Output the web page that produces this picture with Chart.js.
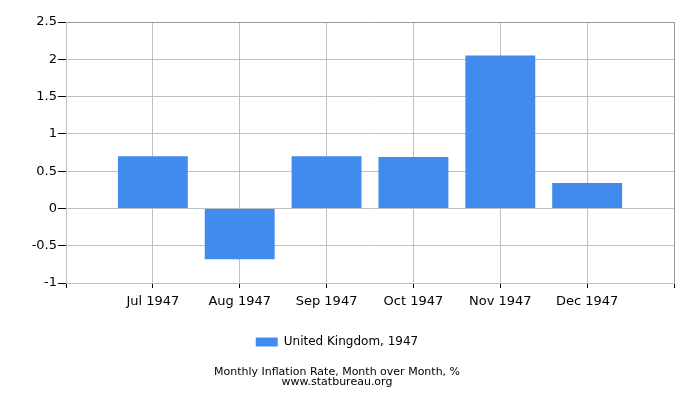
<!DOCTYPE html>
<html>
<head>
<meta charset="utf-8">
<script src="https://cdn.jsdelivr.net/npm/chart.js"></script>
<style>
  html, body { margin: 0; padding: 0; background: #fff; }
</style>
</head>
<body>
<canvas id="chart" width="700" height="400"></canvas>
<script>
// empty slots at both ends so the bars sit on the gridlines, like the original
const months = ['', 'Jul 1947', 'Aug 1947', 'Sep 1947', 'Oct 1947', 'Nov 1947', 'Dec 1947', ''];
const inflation = [null, 0.70, -0.68, 0.70, 0.69, 2.05, 0.34, null];
const seriesLabel = 'United Kingdom, 1947';
const titleLines = ['Monthly Inflation Rate, Month over Month, %', 'www.statbureau.org'];

const FONT = 'DejaVu Sans';
const BAR_COLOR = '#428bee';

new Chart(document.getElementById('chart').getContext('2d'), {
    type: 'bar',
    data: {
        labels: months,
        datasets: [{
            label: seriesLabel,
            data: inflation,
            backgroundColor: BAR_COLOR,
            borderWidth: 0,
            barPercentage: 0.805,
            categoryPercentage: 1
        }]
    },
    options: {
        responsive: false,
        animation: false,
        layout: { padding: { top: 22, right: 26, left: 0, bottom: 0 } },
        scales: {
            x: {
                offset: false,
                grid: {
                    offset: false,
                    color: ctx => ctx.index === months.length - 1 ? '#999' : '#c0c0c0',
                    tickColor: '#000',
                    tickLength: 5
                },
                border: { color: '#c0c0c0' },
                ticks: {
                    color: '#000',
                    font: { family: FONT, size: 13 },
                    padding: 6,
                    maxRotation: 0,
                    autoSkip: false
                },
                afterFit: scale => { scale.height = 43; }
            },
            y: {
                min: -1,
                max: 2.5,
                grid: {
                    color: ctx => ctx.tick && ctx.tick.value === 2.5 ? '#999' : '#c0c0c0',
                    tickColor: '#000',
                    tickLength: 8
                },
                border: { color: '#c0c0c0' },
                ticks: {
                    stepSize: 0.5,
                    color: '#000',
                    font: { family: FONT, size: 13 },
                    padding: 1,
                    callback: v => String(v)
                },
                afterFit: scale => { scale.width = 66; }
            }
        },
        plugins: {
            legend: {
                position: 'bottom',
                labels: {
                    boxWidth: 22,
                    boxHeight: 9,
                    color: '#000',
                    font: { family: FONT, size: 12 },
                    padding: 10
                }
            },
            title: {
                display: true,
                position: 'bottom',
                text: titleLines,
                color: '#000',
                font: { family: FONT, size: 11, weight: 'normal', lineHeight: '10px' },
                padding: { top: 9, bottom: 13 }
            },
            tooltip: { enabled: false }
        }
    }
});
</script>
</body>
</html>
